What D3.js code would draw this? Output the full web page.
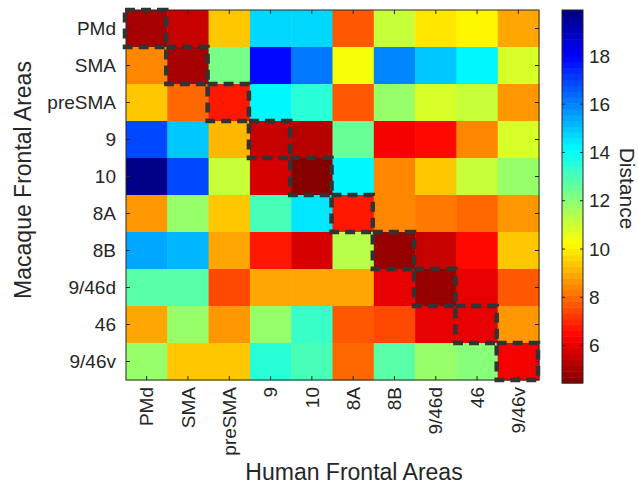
<!DOCTYPE html>
<html>
<head>
<meta charset="utf-8">
<script src="https://cdn.jsdelivr.net/npm/d3@7"></script>
<style>
  body { margin: 0; background: #fff; }
  text { font-family: "Liberation Sans", Arial, Helvetica, sans-serif; fill: #262626; }
</style>
</head>
<body>
<script>
// area labels
const humanAreas = ["PMd", "SMA", "preSMA", "9", "10", "8A", "8B", "9/46d", "46", "9/46v"];
const macaqueAreas = ["PMd", "SMA", "preSMA", "9", "10", "8A", "8B", "9/46d", "46", "9/46v"];

// distance values, one row per macaque area (columns = human areas)
const distances = [
	[5.0, 5.6, 9.5, 14.6, 14.8, 7.7, 11.2, 9.85, 10.15, 8.8],
	[8.5, 5.0, 12.2, 17.8, 16.1, 10.4, 16.0, 14.9, 14.2, 10.8],
	[9.3, 7.9, 6.8, 14.25, 13.5, 7.65, 11.8, 10.8, 11.1, 8.6],
	[17.0, 14.9, 9.1, 5.5, 5.4, 12.6, 6.2, 6.6, 8.5, 10.8],
	[19.7, 16.9, 11.1, 5.8, 4.5, 14.3, 8.5, 9.3, 11.1, 11.7],
	[8.7, 11.7, 9.3, 13.1, 14.5, 6.8, 8.5, 8.2, 8.0, 8.6],
	[15.5, 15.3, 9.0, 6.7, 5.8, 11.4, 4.8, 5.6, 6.5, 9.5],
	[12.7, 12.7, 7.35, 9.0, 9.0, 8.8, 5.9, 4.9, 6.0, 7.6],
	[9.0, 11.8, 8.7, 11.8, 13.3, 7.7, 7.5, 6.1, 5.9, 8.6],
	[11.8, 9.3, 9.5, 13.5, 12.9, 7.9, 12.8, 11.8, 12.0, 6.3]
];

// colour limits and colorbar ticks
const colorRange = [4.45, 19.9];
const colorTicks = [6, 8, 10, 12, 14, 16, 18];

// chart dimensions
const width = 638;
const height = 488;
const plotLeft = 126, plotRight = 539, plotTop = 10, plotBottom = 380;
const cbLeft = 562, cbRight = 583, cbTop = 10, cbBottom = 383;
const axisColor = "#262626";

// MATLAB style jet, 64 levels, flipped so low = dark red
function jet(t) {
	const c = v => Math.max(0, Math.min(1, v));
	const r = c(1.5 - Math.abs(4 * t - 3));
	const g = c(1.5 - Math.abs(4 * t - 2));
	const b = c(1.5 - Math.abs(4 * t - 1));
	return d3.rgb(r * 255, g * 255, b * 255).toString();
}
const norm = d3.scaleLinear(colorRange, [0, 1]).clamp(true);
function color(v) {
	const idx = Math.min(63, Math.floor(norm(v) * 64));
	return jet(1 - (idx + 0.5) / 64);
}

const svg = d3.select("body").append("svg")
	.attr("width", width)
	.attr("height", height)
	.attr("viewBox", [0, 0, width, height]);

const x = d3.scaleBand(humanAreas, [plotLeft, plotRight]);
const y = d3.scaleBand(macaqueAreas, [plotTop, plotBottom]);

// heatmap cells
const cells = [];
distances.forEach((row, i) => row.forEach((v, j) => cells.push({ r: macaqueAreas[i], c: humanAreas[j], v })));

svg.append("g")
	.selectAll("rect")
	.data(cells)
	.join("rect")
	.attr("x", d => x(d.c))
	.attr("y", d => y(d.r))
	.attr("width", x.bandwidth() + 0.5)
	.attr("height", y.bandwidth() + 0.5)
	.attr("fill", d => color(d.v));

// axes, ticks pointing inwards on all four sides
const tickLen = 4;
const frame = svg.append("g").attr("stroke", axisColor).attr("stroke-width", 1);
frame.append("rect")
	.attr("x", plotLeft).attr("y", plotTop)
	.attr("width", plotRight - plotLeft).attr("height", plotBottom - plotTop)
	.attr("fill", "none");
humanAreas.forEach(a => {
	const cx = x(a) + x.bandwidth() / 2;
	frame.append("line").attr("x1", cx).attr("x2", cx).attr("y1", plotTop).attr("y2", plotTop + tickLen);
	frame.append("line").attr("x1", cx).attr("x2", cx).attr("y1", plotBottom).attr("y2", plotBottom - tickLen);
});
macaqueAreas.forEach(a => {
	const cy = y(a) + y.bandwidth() / 2;
	frame.append("line").attr("x1", plotLeft).attr("x2", plotLeft + tickLen).attr("y1", cy).attr("y2", cy);
	frame.append("line").attr("x1", plotRight).attr("x2", plotRight - tickLen).attr("y1", cy).attr("y2", cy);
});

// tick labels
svg.append("g")
	.selectAll("text")
	.data(macaqueAreas)
	.join("text")
	.attr("x", plotLeft - 10)
	.attr("y", d => y(d) + y.bandwidth() / 2)
	.attr("dy", "0.35em")
	.attr("text-anchor", "end")
	.attr("font-size", "19px")
	.text(d => d);

svg.append("g")
	.selectAll("text")
	.data(humanAreas)
	.join("text")
	.attr("transform", d => `translate(${x(d) + x.bandwidth() / 2},${plotBottom + 7}) rotate(-90)`)
	.attr("dy", "0.35em")
	.attr("text-anchor", "end")
	.attr("font-size", "19px")
	.text(d => d);

// diagonal dashed boxes
svg.append("g")
	.selectAll("rect")
	.data(humanAreas)
	.join("rect")
	.attr("x", d => x(d) - 1)
	.attr("y", (d, i) => y(macaqueAreas[i]))
	.attr("width", x.bandwidth())
	.attr("height", y.bandwidth())
	.attr("fill", "none")
	.attr("stroke", "#333")
	.attr("stroke-width", 4.5)
	.attr("stroke-dasharray", "10,6");

// axis titles
svg.append("text")
	.attr("transform", `translate(31,180) rotate(-90)`)
	.attr("text-anchor", "middle")
	.attr("font-size", "23px")
	.text("Macaque Frontal Areas");

svg.append("text")
	.attr("x", 354)
	.attr("y", 480)
	.attr("text-anchor", "middle")
	.attr("font-size", "23px")
	.text("Human Frontal Areas");

// colorbar
const cy = d3.scaleLinear(colorRange, [cbBottom, cbTop]);
const bands = d3.range(64);
const bandH = (cbBottom - cbTop) / 64;
svg.append("g")
	.selectAll("rect")
	.data(bands)
	.join("rect")
	.attr("x", cbLeft)
	.attr("y", i => cbBottom - (i + 1) * bandH)
	.attr("width", cbRight - cbLeft)
	.attr("height", bandH + 0.5)
	.attr("fill", i => jet(1 - (i + 0.5) / 64));

const cbFrame = svg.append("g").attr("stroke", axisColor).attr("stroke-width", 1);
cbFrame.append("rect")
	.attr("x", cbLeft).attr("y", cbTop)
	.attr("width", cbRight - cbLeft).attr("height", cbBottom - cbTop)
	.attr("fill", "none");
colorTicks.forEach(t => {
	cbFrame.append("line").attr("x1", cbLeft).attr("x2", cbLeft + 3).attr("y1", cy(t)).attr("y2", cy(t));
	cbFrame.append("line").attr("x1", cbRight).attr("x2", cbRight - 3).attr("y1", cy(t)).attr("y2", cy(t));
});
svg.append("g")
	.selectAll("text")
	.data(colorTicks)
	.join("text")
	.attr("x", cbRight + 6)
	.attr("y", d => cy(d))
	.attr("dy", "0.35em")
	.attr("font-size", "19px")
	.text(d => d);

svg.append("text")
	.attr("transform", `translate(620,${(cbTop + cbBottom) / 2 - 8}) rotate(90)`)
	.attr("text-anchor", "middle")
	.attr("font-size", "21px")
	.text("Distance");
</script>
</body>
</html>
